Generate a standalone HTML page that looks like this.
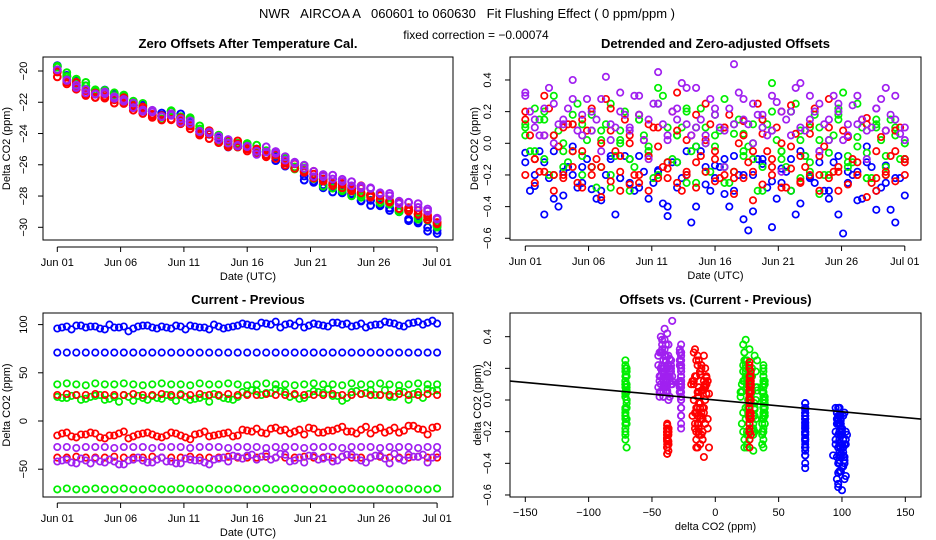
<!DOCTYPE html>
<html><head><meta charset="utf-8"><title>NWR AIRCOA A flushing fit</title>
<style>
html,body{margin:0;padding:0;background:#fff;}
svg{display:block;font-family:"Liberation Sans",sans-serif;}
.tk{font-size:11px;fill:#000;}
.ttl{font-size:13px;font-weight:bold;fill:#000;}
</style></head>
<body>
<svg id="chart" width="936" height="540" viewBox="0 0 936 540">
<defs>
<clipPath id="c1"><rect x="43" y="57" width="410" height="183"/></clipPath>
<clipPath id="c2"><rect x="510" y="57" width="411" height="183"/></clipPath>
<clipPath id="c3"><rect x="43" y="313" width="410" height="184"/></clipPath>
<clipPath id="c4"><rect x="510" y="313" width="411" height="184"/></clipPath>
</defs>
<text x="467" y="18" text-anchor="middle" font-size="13" style="white-space:pre" xml:space="preserve">NWR   AIRCOA A   060601 to 060630   Fit Flushing Effect ( 0 ppm/ppm )</text>
<text x="476" y="39" text-anchor="middle" font-size="12">fixed correction = −0.00074</text>
<g id="layer"></g>
</svg>
<script>
const T=[0,0.75,1.5,2.25,3,3.75,4.5,5.25,6,6.75,7.5,8.25,9,9.75,10.5,11.25,12,12.75,13.5,14.25,15,15.75,16.5,17.25,18,18.75,19.5,20.25,21,21.75,22.5,23.25,24,24.75,25.5,26.25,27,27.75,28.5,29.25,30];
const T2=[0.375,1.125,1.875,2.625,3.375,4.125,4.875,5.625,6.375,7.125,7.875,8.625,9.375,10.125,10.875,11.625,12.375,13.125,13.875,14.625,15.375,16.125,16.875,17.625,18.375,19.125,19.875,20.625,21.375,22.125,22.875,23.625,24.375,25.125,25.875,26.625,27.375,28.125,28.875,29.625];
const zeroBlue=[-19.6,-20.1,-20.5,-20.9,-21.1,-21.2,-21.3,-21.5,-21.9,-22.1,-22.4,-22.6,-22.5,-22.7,-23.1,-23.5,-23.8,-24.2,-24.5,-24.6,-24.7,-24.9,-25.1,-25.3,-25.7,-26.1,-26.5,-26.9,-27.2,-27.4,-27.6,-27.8,-28.0,-28.2,-28.4,-28.6,-28.9,-29.2,-29.5,-29.8,-30.1];
const zeroGreen=[-19.8,-20.3,-20.7,-21.0,-21.2,-21.4,-21.5,-21.7,-22.0,-22.3,-22.6,-22.8,-22.7,-22.9,-23.3,-23.6,-23.9,-24.3,-24.6,-24.7,-24.8,-25.0,-25.2,-25.3,-25.7,-26.0,-26.4,-26.8,-27.1,-27.3,-27.5,-27.7,-27.9,-28.1,-28.3,-28.5,-28.8,-29.0,-29.3,-29.6,-29.9];
const zeroRed=[-20.2,-20.6,-21.0,-21.3,-21.5,-21.6,-21.8,-21.9,-22.2,-22.5,-22.7,-22.9,-22.9,-23.1,-23.5,-23.9,-24.1,-24.4,-24.6,-24.7,-24.9,-25.1,-25.2,-25.4,-25.7,-26.0,-26.3,-26.6,-26.9,-27.1,-27.3,-27.4,-27.6,-27.8,-28.0,-28.2,-28.5,-28.7,-29.0,-29.3,-29.6];
const zeroPurple=[-20.2,-20.7,-21.1,-21.4,-21.6,-21.7,-21.8,-22.0,-22.3,-22.6,-22.8,-23.0,-23.0,-23.2,-23.6,-23.9,-24.1,-24.5,-24.7,-24.8,-25.0,-25.2,-25.3,-25.4,-25.7,-26.0,-26.3,-26.6,-26.8,-27.0,-27.2,-27.3,-27.5,-27.7,-27.9,-28.1,-28.4,-28.6,-28.8,-29.1,-29.5];

const blue98Diff=[96,98,99,97,98,95,97,98,96,99,97,98,96,98,99,97,95,98,97,99,100,98,101,103,100,99,97,101,99,102,100,98,101,99,100,102,99,101,103,102,101];
const blue98Res=[-.12,-.27,-.45,-.05,-.33,-.2,-.15,-.29,-.36,-.1,-.22,-.25,-.08,-.35,-.18,-.46,-.28,-.05,-.4,-.15,-.22,-.1,-.3,-.48,-.2,-.13,-.53,-.25,-.1,-.38,-.22,-.05,-.3,-.45,-.18,-.36,-.12,-.42,-.25,-.5,-.33];
const blue98BDiff=[97,95,99,98,96,100,97,93,98,99,96,97,99,95,98,97,100,96,98,101,99,102,100,97,101,103,99,100,98,102,101,99,97,100,103,101,98,102,100,104];
const blue98BRes=[-.3,-.05,-.22,-.4,-.15,-.28,-.1,-.35,-.2,-.45,-.08,-.3,-.18,-.25,-.38,-.12,-.22,-.5,-.05,-.3,-.15,-.4,-.2,-.55,-.1,-.28,-.35,-.18,-.45,-.08,-.25,-.3,-.12,-.57,-.2,-.35,-.15,-.28,-.42,-.22];
const blue71Diff=[71,71,71,71,71,71,71,71,71,71,71,71,71,71,71,71,71,71,71,71,71,71,71,71,71,71,71,71,71,71,71,71,71,71,71,71,71,71,71,71,71];
const blue71Res=[-.06,-.2,-.12,-.35,-.18,-.02,-.25,-.15,-.3,-.08,-.22,-.1,-.28,-.05,-.17,-.4,-.12,-.2,-.02,-.26,-.14,-.32,-.08,-.2,-.43,-.1,-.24,-.16,-.3,-.05,-.21,-.12,-.35,-.08,-.25,-.18,-.02,-.3,-.14,-.22,-.1];
const green38Diff=[38,39,38,37,39,38,38,39,38,37,38,39,38,38,37,39,38,38,39,38,37,38,39,38,38,37,38,39,38,38,37,39,38,38,39,38,37,38,39,38,38];
const green38Res=[.05,-.1,.15,-.2,0,-.05,.12,-.15,.08,-.28,.02,-.1,.18,-.05,-.2,.1,-.12,.22,-.02,-.18,.05,-.25,.12,-.08,0,-.15,.2,-.05,-.3,.08,-.12,.02,-.2,.15,-.08,-.02,-.22,.1,-.15,.05,-.1];
const green26Diff=[25,24,27,23,26,22,25,27,21,24,26,23,25,28,22,24,20,26,23,25,28,31,29,33,30,27,24,31,29,26,21,30,28,32,27,25,31,22,30,33,32];
const green26Res=[.12,.22,-.1,.3,-.05,.18,-.2,.08,-.15,.25,0,-.3,.15,-.08,.35,-.12,.05,.2,-.25,.1,-.02,.28,-.18,.06,-.1,.15,.38,-.05,.2,-.22,.1,-.32,.02,.18,-.15,.25,-.06,.12,-.2,.08,0];
const green26BDiff=[24,26,22,25,27,23,20,25,26,22,24,27,21,25,23,26,28,24,22,30,32,27,29,31,25,23,28,30,33,26,24,31,29,27,32,25,30,28,24,31];
const green26BRes=[-.05,.15,-.2,.08,-.12,.25,.02,-.28,.12,-.08,.2,-.15,.05,-.22,.3,-.1,.1,-.05,.22,-.18,.08,-.25,.15,-.02,-.3,.12,.02,-.15,.25,-.08,.18,-.2,.05,.32,-.12,.1,-.22,.02,.15,-.1];
const greenM70Diff=[-71,-70,-71,-71,-70,-71,-71,-70,-71,-71,-70,-71,-71,-70,-71,-71,-70,-71,-71,-70,-71,-71,-70,-71,-71,-70,-71,-71,-70,-71,-71,-70,-71,-71,-70,-71,-71,-70,-71,-71,-70];
const greenM70Res=[.1,-.05,.2,.05,-.15,.12,-.08,.18,.02,-.2,.08,-.1,.15,-.02,.25,-.12,.05,-.25,.1,0,.18,-.15,.06,-.05,.12,-.3,.08,-.1,.2,.02,-.18,.1,-.06,.22,-.12,.04,-.22,.15,-.08,.1,0];
const red27Diff=[27,28,27,27,28,27,27,27,28,27,27,28,27,27,27,28,27,27,28,27,27,27,28,27,27,28,27,27,27,28,27,27,28,27,27,27,28,27,27,28,27];
const red27Res=[.2,-.1,.05,-.2,.1,-.05,.15,-.15,0,.22,-.08,.05,-.25,.12,-.02,-.12,.08,-.18,.18,.02,-.1,.1,-.22,.05,-.05,.15,-.15,0,.24,-.08,.06,-.2,.1,-.3,.04,-.12,.12,-.05,-.2,.08,-.1];
const redM13Diff=[-15,-12,-17,-14,-13,-18,-15,-11,-16,-13,-14,-17,-12,-15,-19,-13,-16,-14,-12,-15,-10,-8,-13,-7,-9,-11,-14,-8,-12,-10,-6,-11,-9,-13,-7,-10,-12,-5,-8,-14,-6];
const redM13Res=[.15,-.1,.3,.05,-.2,.12,-.05,.22,-.15,.08,-.3,0,.18,-.08,.1,-.22,.32,.02,-.12,.25,-.05,.1,-.18,.14,-.36,.06,-.1,.2,-.02,-.25,.12,-.08,.28,-.15,.04,-.2,.16,-.3,.08,-.05,-.12];
const redM13BDiff=[-13,-16,-14,-12,-17,-15,-13,-18,-14,-12,-16,-15,-13,-17,-14,-11,-15,-13,-16,-9,-11,-12,-8,-10,-13,-9,-7,-12,-10,-8,-11,-13,-6,-9,-12,-7,-10,-5,-9,-7];
const redM13BRes=[.05,-.18,.22,-.02,.12,-.25,.08,-.1,.28,-.05,.15,-.2,.02,.1,-.15,.2,-.3,.05,-.08,.12,-.22,.18,0,-.12,.25,-.05,.1,-.28,.06,-.15,.22,-.02,-.18,.08,-.1,.15,-.25,.04,-.08,.1];
const redM38Diff=[-38,-38,-37,-38,-38,-38,-37,-38,-38,-38,-37,-38,-38,-38,-37,-38,-38,-38,-37,-38,-38,-38,-37,-38,-38,-38,-37,-38,-38,-38,-37,-38,-38,-38,-37,-38,-38,-38,-37,-38,-38];
const redM38Res=[-.2,-.25,-.18,-.3,-.22,-.15,-.28,-.2,-.34,-.24,-.18,-.26,-.2,-.3,-.22,-.16,-.25,-.2,-.28,-.18,-.24,-.2,-.32,-.22,-.18,-.26,-.2,-.28,-.16,-.24,-.2,-.3,-.22,-.18,-.26,-.2,-.34,-.22,-.18,-.24,-.2];
const purpleM27Diff=[-27,-27,-28,-27,-27,-27,-28,-27,-27,-27,-28,-27,-27,-27,-28,-27,-27,-27,-28,-27,-27,-27,-28,-27,-27,-27,-28,-27,-27,-27,-28,-27,-27,-27,-28,-27,-27,-27,-28,-27,-27];
const purpleM27Res=[.3,.1,.22,0,.15,.28,.05,.2,-.05,.12,.32,.08,.18,-.1,.25,.02,.15,.35,.1,.05,.22,-.15,.12,.28,0,.18,.08,-.18,.2,.1,.3,-.05,.15,.25,.05,.12,-.1,.22,.08,.3,.02];
const purpleM40Diff=[-42,-40,-44,-41,-39,-43,-42,-45,-40,-41,-43,-38,-42,-44,-40,-41,-45,-39,-42,-37,-36,-40,-34,-38,-35,-41,-43,-36,-39,-42,-37,-35,-41,-38,-36,-44,-39,-35,-37,-43,-34];
const purpleM40Res=[.32,.15,.05,.25,.12,.4,.18,.08,.28,.02,.2,.1,.3,.15,.45,.05,.22,.12,.35,0,.18,.08,.5,.15,.25,.1,.3,.2,.05,.38,.15,.25,.02,.2,.12,.3,.08,.22,.35,.15,.1];
const purpleM40BDiff=[-41,-43,-39,-44,-42,-40,-45,-41,-38,-43,-40,-42,-44,-39,-41,-43,-40,-38,-36,-39,-35,-37,-40,-34,-42,-38,-36,-40,-37,-41,-35,-38,-43,-36,-39,-34,-41,-37,-35,-38];
const purpleM40BRes=[.2,.05,.35,.12,.22,.08,.28,.15,.42,.1,.18,.3,.02,.25,.12,.2,.38,.05,.15,.28,.1,.22,.32,.12,.18,.05,.26,.15,.35,.08,.2,.12,.3,.02,.24,.15,.1,.28,.18,.06];

const dateTicks=[0,5,10,15,20,25,30];
const dateLabels=["Jun 01","Jun 06","Jun 11","Jun 16","Jun 21","Jun 26","Jul 01"];
const p1Ticks=[-20,-22,-24,-26,-28,-30];
const p2Ticks=[0.4,0.2,0.0,-0.2,-0.4,-0.6];
const p2Labels=["0.4","0.2","0.0","-0.2","-0.4","-0.6"];
const p3Ticks=[100,50,0,-50];
const p4XTicks=[-150,-100,-50,0,50,100,150];
const fitSlope=-0.00074;
const fitIntercept=0.0;

const BLUE="#0000ff",GREEN="#00ee00",RED="#ff0000",PURPLE="#a020f0";
// drawing order: blue, green, red, purple (purple on top)
const groups=[
 {name:"blue-98",color:BLUE,t:T,diff:blue98Diff,res:blue98Res,base:zeroBlue},
 {name:"blue-98b",color:BLUE,t:T2,diff:blue98BDiff,res:blue98BRes},
 {name:"blue-71",color:BLUE,t:T,diff:blue71Diff,res:blue71Res,base:zeroBlue},
 {name:"green-38",color:GREEN,t:T,diff:green38Diff,res:green38Res,base:zeroGreen},
 {name:"green-26",color:GREEN,t:T,diff:green26Diff,res:green26Res,base:zeroGreen},
 {name:"green-26b",color:GREEN,t:T2,diff:green26BDiff,res:green26BRes},
 {name:"green-minus-70",color:GREEN,t:T,diff:greenM70Diff,res:greenM70Res,base:zeroGreen},
 {name:"red-27",color:RED,t:T,diff:red27Diff,res:red27Res,base:zeroRed},
 {name:"red-minus-13",color:RED,t:T,diff:redM13Diff,res:redM13Res,base:zeroRed},
 {name:"red-minus-13b",color:RED,t:T2,diff:redM13BDiff,res:redM13BRes},
 {name:"red-minus-38",color:RED,t:T,diff:redM38Diff,res:redM38Res,base:zeroRed},
 {name:"purple-minus-27",color:PURPLE,t:T,diff:purpleM27Diff,res:purpleM27Res,base:zeroPurple},
 {name:"purple-minus-40",color:PURPLE,t:T,diff:purpleM40Diff,res:purpleM40Res,base:zeroPurple},
 {name:"purple-minus-40b",color:PURPLE,t:T2,diff:purpleM40BDiff,res:purpleM40BRes}
];

const NS="http://www.w3.org/2000/svg";
const layer=document.getElementById("layer");
function mk(tag,attrs,parent){const e=document.createElementNS(NS,tag);for(const k in attrs)e.setAttribute(k,attrs[k]);(parent||layer).appendChild(e);return e;}
function txt(x,y,s,cls,anchor,rot,parent){const e=mk("text",{x:x,y:y,"class":cls,"text-anchor":anchor||"middle"},parent);if(rot)e.setAttribute("transform","rotate(-90 "+x+" "+y+")");e.textContent=s;return e;}

const P1={x:t=>57.3+t*12.66,y:v=>71+(-20-v)*15.63};
const P2={x:t=>525.3+t*12.65,y:v=>143.3-v*158.3};
const P3={x:t=>57.3+t*12.66,y:v=>421-v*0.964};
const P4={x:v=>715.3+v*1.2667,y:v=>400-v*158.3};

function panel(id,box,title,xlab,ylab,ylabX,xAxisY){
 const g=mk("g",{});
 
 
 const r=mk("rect",{x:box[0],y:box[1],width:box[2],height:box[3],fill:"none",stroke:"#000","stroke-width":1},g);
 
 
 const t=txt(box[0]+box[2]/2,box[1]-9,title,"ttl","middle",false,g);
 
 
 const xl=txt(box[0]+box[2]/2,xAxisY+33,xlab,"tk","middle",false,g);
 
 
 const yl=txt(ylabX,box[1]+box[3]/2,ylab,"tk","middle",true,g);
 
 
 return g;
}
function xAxis(g,id,ticks,labels,sx,y0){
 const ax=mk("g",{},g);
 
 
 mk("line",{x1:sx(ticks[0]),x2:sx(ticks[ticks.length-1]),y1:y0,y2:y0,stroke:"#000"},ax);
 ticks.forEach((v,i)=>{
  mk("line",{x1:sx(v),x2:sx(v),y1:y0,y2:y0+5,stroke:"#000"},ax);
  const l=txt(sx(v),y0+19,labels[i],"tk","middle",false,ax);
  
  
 });
}
function yAxis(g,id,ticks,labels,sy,x0,lx){
 const ax=mk("g",{},g);
 
 
 mk("line",{x1:x0,x2:x0,y1:sy(ticks[0]),y2:sy(ticks[ticks.length-1]),stroke:"#000"},ax);
 ticks.forEach((v,i)=>{
  mk("line",{x1:x0,x2:x0-5,y1:sy(v),y2:sy(v),stroke:"#000"},ax);
  const l=txt(lx,sy(v),labels[i],"tk","middle",true,ax);
  
  
 });
}
function pts(g,clip,xs,ys,sx,sy,color,name,r,sw){
 const s=mk("g",{"clip-path":"url(#"+clip+")",fill:"none",stroke:color,"stroke-width":sw||1.7},g);
 
 
 for(let i=0;i<xs.length;i++){
  const c=mk("circle",{cx:sx(xs[i]).toFixed(1),cy:sy(ys[i]).toFixed(1),r:r||3.2},s);
  
  
 }
}
const minus=s=>String(s).replace("-","−");

// Panel 1: zero offsets = trend for colour + residual of each sample
const g1=panel("zero-offsets-panel",[43,57,410,183],"Zero Offsets After Temperature Cal.","Date (UTC)","Delta CO2 (ppm)",10,247);
xAxis(g1,"zero-offsets",dateTicks,dateLabels,P1.x,247);
yAxis(g1,"zero-offsets",p1Ticks,p1Ticks.map(minus),P1.y,43,27);
groups.filter(gr=>gr.base).forEach(gr=>{
 const vals=gr.base.map((b,i)=>b+gr.res[i]*0.9);
 pts(g1,"c1",gr.t,vals,P1.x,P1.y,gr.color,"zero-offset-"+gr.name,3.4,2);
});

// Panel 2
const g2=panel("detrended-panel",[510,57,411,183],"Detrended and Zero-adjusted Offsets","Date (UTC)","Delta CO2 (ppm)",478,246);
xAxis(g2,"detrended",dateTicks,dateLabels,P2.x,246);
yAxis(g2,"detrended",p2Ticks,p2Labels.map(minus),P2.y,510,491);
groups.forEach(gr=>pts(g2,"c2",gr.t,gr.res,P2.x,P2.y,gr.color,"residual-"+gr.name));

// Panel 3
const g3=panel("current-minus-previous-panel",[43,313,410,184],"Current - Previous","Date (UTC)","Delta CO2 (ppm)",10,503);
xAxis(g3,"current-minus-previous",dateTicks,dateLabels,P3.x,503);
yAxis(g3,"current-minus-previous",p3Ticks,p3Ticks.map(minus),P3.y,43,27);
groups.forEach(gr=>pts(g3,"c3",gr.t,gr.diff,P3.x,P3.y,gr.color,"difference-"+gr.name));

// Panel 4
const g4=panel("offsets-vs-difference-panel",[510,313,411,184],"Offsets vs. (Current - Previous)","delta CO2 (ppm)","delta CO2 (ppm)",481,497);
xAxis(g4,"offsets-vs-difference",p4XTicks,p4XTicks.map(minus),P4.x,497);
yAxis(g4,"offsets-vs-difference",p2Ticks,p2Labels.map(minus),P4.y,510,491);
groups.forEach(gr=>pts(g4,"c4",gr.diff,gr.res,P4.x,P4.y,gr.color,"scatter-"+gr.name));
const fit=mk("line",{x1:P4.x(-170),y1:P4.y(fitIntercept+fitSlope*-170),x2:P4.x(170),y2:P4.y(fitIntercept+fitSlope*170),stroke:"#000","stroke-width":1.6,"clip-path":"url(#c4)"},g4);


</script>
</body></html>
